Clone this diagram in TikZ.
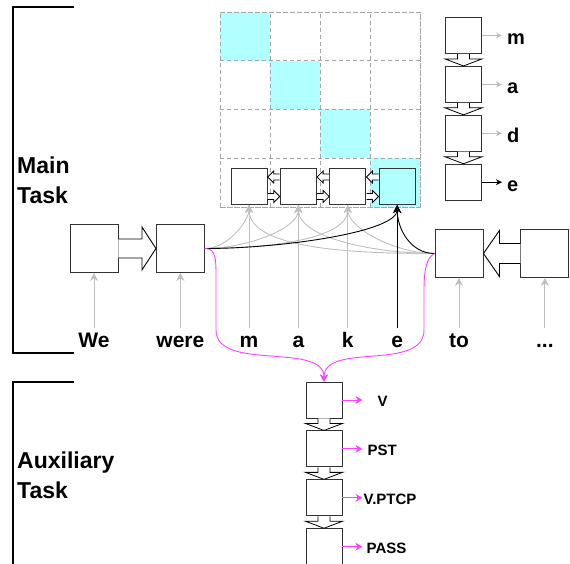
\documentclass[tikz,border=0pt]{standalone}
\usepackage{fontspec}
\setmainfont{Liberation Sans}
\usepackage{xcolor}
\usepackage{tikz}
\usetikzlibrary{positioning,calc,arrows.meta}
\definecolor{attncyan}{RGB}{178,255,255}
\definecolor{auxpink}{RGB}{255,64,255}
\tikzstyle{unit} = [rectangle, minimum width=36pt, minimum height=36pt, inner sep=0pt, draw=black!80, line width=0.9pt, fill=white]
\tikzstyle{wordunit} = [unit, minimum width=48pt, minimum height=48pt]
\tikzstyle{word} = [font=\fontsize{21}{21}\selectfont\bfseries, text height=15pt, text depth=4pt, inner sep=4pt, anchor=base]
\tikzstyle{declab} = [font=\fontsize{20}{20}\selectfont\bfseries, text height=18pt, text depth=0pt, inner sep=0pt]
\tikzstyle{auxlab} = [font=\fontsize{15}{15}\selectfont\bfseries, text height=13pt, text depth=0pt, inner sep=0pt]
\tikzstyle{tasklab} = [font=\fontsize{23}{30}\selectfont\bfseries, align=left, anchor=west, inner sep=0pt]
\tikzstyle{feed} = [->, >={Stealth[length=8pt,width=8pt]}, draw=black!25, line width=0.9pt]
\tikzstyle{feedmain} = [feed, draw=black]
\tikzstyle{emit} = [feed, >={Stealth[length=6pt,width=6pt]}]
\tikzstyle{tag} = [->, >={Stealth[length=7pt,width=8pt]}, draw=auxpink, line width=0.9pt]
\tikzstyle{blockarrow} = [draw=black, fill=white, line width=0.8pt]
\tikzstyle{gridline} = [draw=black!35, dash pattern=on 4pt off 3pt, line width=0.7pt]
\tikzstyle{bracket} = [draw=black, line width=2pt]
\tikzset{
  pics/sideblock/.style={code={\draw[blockarrow] (-6,3) -- (0,3) -- (0,6) -- (6,0) -- (0,-6) -- (0,-3) -- (-6,-3);}},
  pics/downblock/.style={code={\draw[blockarrow] (-6,6) -- (-6,1) -- (-18.5,1) -- (0,-6) -- (18.5,1) -- (6,1) -- (6,6);}}
}
\begin{document}
\begin{tikzpicture}[x=1pt, y=1pt, node distance=12pt]
    \useasboundingbox (0,0) rectangle (570,-564);

    % Attention grid
    \fill[attncyan] (220,-12) rectangle (270,-60.75);
    \fill[attncyan] (270,-60.75) rectangle (320,-109.5);
    \fill[attncyan] (320,-109.5) rectangle (370,-158.25);
    \fill[attncyan] (370,-158.25) rectangle (420,-207);
    \begin{scope}[shift={(220,-207)}]
        \draw[gridline, xstep=50pt, ystep=48.75pt] (0,0) grid (200,195);
        \draw[gridline] (0,0) rectangle (200,195);
    \end{scope}

    % Brackets and task labels
    \draw[bracket] (74,-7) -- (13,-7) -- (13,-353) -- (74,-353);
    \draw[bracket] (74,-382) -- (13,-382) -- (13,-570);
    \node (main) [tasklab] at (17,-180) {Main\\Task};
    \node (aux) [tasklab] at (17,-475) {Auxiliary\\Task};

    % Character encoder
    \node (c1) [unit] at (249,-186.5) {};
    \node (c2) [unit, right=12.5pt of c1] {};
    \node (c3) [unit, right=12.5pt of c2] {};
    \node (c4) [unit, right=12.5pt of c3, fill=attncyan] {};

    % Decoder
    \node (d1) [unit] at (463.5,-35.5) {};
    \node (d2) [unit, below=of d1] {};
    \node (d3) [unit, below=of d2] {};
    \node (d4) [unit, below=of d3] {};
    \node (om) [declab, right=25pt of d1] {m};
    \node (oa) [declab, right=25pt of d2] {a};
    \node (od) [declab, right=25pt of d3] {d};
    \node (oe) [declab, right=25pt of d4] {e};

    % Word encoder
    \node (w1) [wordunit] at (94,-248.5) {};
    \node (w2) [wordunit, right=37.5pt of w1] {};
    \node (t1) [wordunit] at (459,-253.5) {};
    \node (t2) [wordunit, right=37pt of t1] {};

    % Input words
    \coordinate (wordline) at (0,-347);
    \node (xWe) [word] at (w1 |- wordline) {We};
    \node (xwere) [word] at (w2 |- wordline) {were};
    \node (xm) [word] at (c1 |- wordline) {m};
    \node (xa) [word] at (c2 |- wordline) {a};
    \node (xk) [word] at (c3 |- wordline) {k};
    \node (xe) [word] at (c4 |- wordline) {e};
    \node (xto) [word] at (t1 |- wordline) {to};
    \node (xdots) [word] at (t2 |- wordline) {...};

    % Auxiliary tagger
    \node (a1) [unit] at (324,-400) {};
    \node (a2) [unit, below=of a1] {};
    \node (a3) [unit, below=of a2] {};
    \node (a4) [unit, below=of a3] {};
    \node (tV) [auxlab, right=35pt of a1] {V};
    \node (tPST) [auxlab, right=25pt of a2] {PST};
    \node (tPTCP) [auxlab, right=21pt of a3] {V.PTCP};
    \node (tPASS) [auxlab, right=24pt of a4] {PASS};

    % Block arrows
    \draw[blockarrow, line width=0.9pt] ($(w1.east)+(0,9.5)$) -- ($(w2.west)+(-14,9.5)$) -- ($(w2.west)+(-14,21.5)$) -- (w2.west) -- ($(w2.west)+(-14,-21.5)$) -- ($(w2.west)+(-14,-9.5)$) -- ($(w1.east)+(0,-9.5)$);
    \draw[blockarrow, line width=0.9pt] ($(t2.west)+(0,10)$) -- ($(t1.east)+(16,10)$) -- ($(t1.east)+(16,23)$) -- (t1.east) -- ($(t1.east)+(16,-23)$) -- ($(t1.east)+(16,-10)$) -- ($(t2.west)+(0,-10)$);
    \pic[rotate=180] at ($(c1.east)!0.5!(c2.west)+(0,9.5)$) {sideblock};
    \pic at ($(c1.east)!0.5!(c2.west)+(0,-10)$) {sideblock};
    \pic[rotate=180] at ($(c2.east)!0.5!(c3.west)+(0,9.5)$) {sideblock};
    \pic at ($(c2.east)!0.5!(c3.west)+(0,-10)$) {sideblock};
    \pic[rotate=180] at ($(c3.east)!0.5!(c4.west)+(0,9.5)$) {sideblock};
    \pic at ($(c3.east)!0.5!(c4.west)+(0,-10)$) {sideblock};
    \pic at ($(d1.south)!0.5!(d2.north)$) {downblock};
    \pic at ($(d2.south)!0.5!(d3.north)$) {downblock};
    \pic at ($(d3.south)!0.5!(d4.north)$) {downblock};
    \pic at ($(a1.south)!0.5!(a2.north)$) {downblock};
    \pic at ($(a2.south)!0.5!(a3.north)$) {downblock};
    \pic at ($(a3.south)!0.5!(a4.north)$) {downblock};

    % Gray inputs
    \draw[feed] (xWe) -- (w1);
    \draw[feed] (xwere) -- (w2);
    \draw[feed] (xto) -- (t1);
    \draw[feed] (xdots) -- (t2);
    \draw[feed] (w2.east) to[out=0, in=-90, in looseness=0.6] (c1.south);
    \draw[feed] (w2.east) to[out=0, in=-90, in looseness=0.6] (c2.south);
    \draw[feed] (w2.east) to[out=0, in=-90, in looseness=0.6] (c3.south);
    \draw[feed] (t1.west) to[out=180, in=-90, in looseness=0.6] (c1.south);
    \draw[feed] (t1.west) to[out=180, in=-90, in looseness=0.6] (c2.south);
    \draw[feed] (t1.west) to[out=180, in=-90, in looseness=0.6] (c3.south);
    \draw[feed] (xm) -- (c1);
    \draw[feed] (xa) -- (c2);
    \draw[feed] (xk) -- (c3);

    % Current character
    \draw[feedmain] (w2.east) to[out=0, in=-90, in looseness=0.35] (c4.south);
    \draw[feedmain] (t1.west) to[out=180, in=-90] (c4.south);
    \draw[feedmain] (xe) -- (c4);

    % Decoder outputs
    \draw[emit, shorten >=5pt] (d1) -- (om);
    \draw[emit, shorten >=5pt] (d2) -- (oa);
    \draw[emit, shorten >=5pt] (d3) -- (od);
    \draw[emit, shorten >=5pt, draw=black] (d4) -- (oe);

    % Auxiliary task
    \coordinate (lbend) at (216,-285);
    \coordinate (lbend2) at (216,-330);
    \coordinate (rbend) at (424,-290);
    \coordinate (rbend2) at (424,-330);
    \draw[tag] (w2.east) .. controls +(12,0) and +(0,25) .. (lbend) -- (lbend2) .. controls +(0,-42) and +(0,40) .. (a1.north);
    \draw[tag] (t1.west) .. controls +(-8,-4) and +(0,20) .. (rbend) -- (rbend2) .. controls +(0,-42) and +(0,40) .. (a1.north);
    \draw[tag] (a1.east) -- ++(20,0);
    \draw[tag] (a2.east) -- ++(20,0);
    \draw[tag] (a3.east) -- ++(20,0);
    \draw[tag] (a4.east) -- ++(20,0);
\end{tikzpicture}
\end{document}
